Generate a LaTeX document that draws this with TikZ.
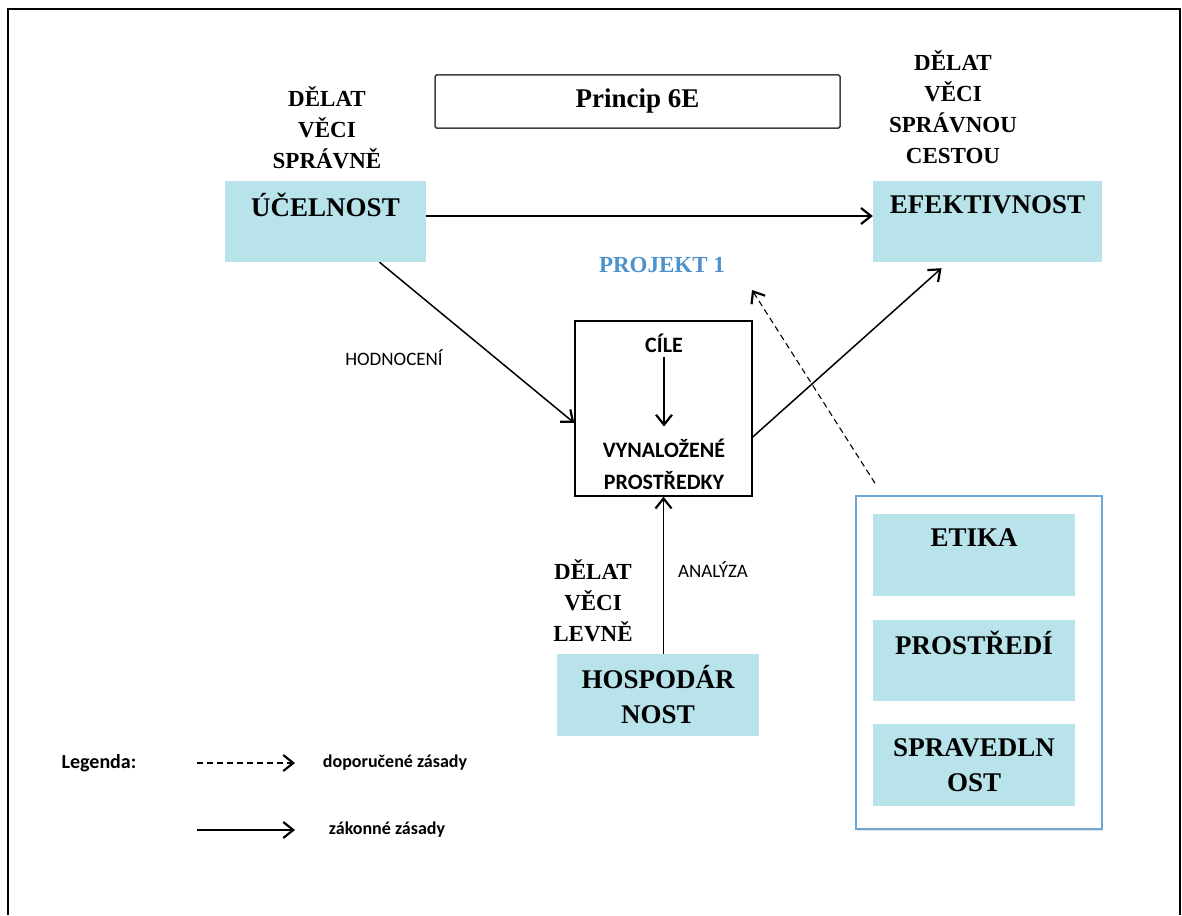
\documentclass[tikz,border=0pt]{standalone}
\usepackage{fontspec}
\setmainfont{Liberation Serif}
\newfontfamily\calibri{Carlito}
\usepackage{xcolor}
\usetikzlibrary{arrows.meta,shadows}
\definecolor{boxblue}{RGB}{184,227,234}
\definecolor{projblue}{RGB}{76,146,204}
\definecolor{groupblue}{RGB}{110,166,214}
\newcommand\boxfont{\fontsize{27}{35}\selectfont\bfseries}
\newcommand\headfont{\fontsize{23}{31}\selectfont\bfseries}
\newcommand\midfont{\calibri\fontsize{22}{32}\selectfont\bfseries}
\newcommand\notefont{\calibri\fontsize{19}{20}\selectfont}
\tikzset{
  bluebox/.style={fill=boxblue, inner sep=0pt},
  arr/.style={line width=1.5pt, -{Straight Barb[length=10pt,width=16pt,line width=2.2pt]}},
  dasharr/.style={arr, dash pattern=on 6pt off 4pt}
}

\begin{document}
\begin{tikzpicture}[x=1pt,y=-1pt]
      \useasboundingbox (0,0) rectangle (1182,915);
      \draw[line width=2pt] (8,915) -- (8,9) -- (1180,9) -- (1180,915);

      % title
      \node[draw=black!75, line width=1.5pt, rounded corners=1.5pt, minimum width=405pt, minimum height=53pt, font=\boxfont] (title) at (637.5,101.5) {Princip 6E};

      % main boxes
      \node[bluebox, minimum width=201pt, minimum height=81pt] (ucel) at (325.5,221.5) {};
      \node[font=\boxfont] (uceltext) at ([yshift=-24pt]ucel.north) {ÚČELNOST};
      \node[bluebox, minimum width=229pt, minimum height=81pt] (efek) at (987.5,221.5) {};
      \node[font=\boxfont] (efektext) at ([yshift=-24pt]efek.north) {EFEKTIVNOST};
      \node[bluebox, minimum width=202pt, minimum height=82pt, align=center, font=\boxfont] (hosp) at (658,695) {HOSPODÁR\\NOST};

      \node[font=\headfont, align=center] (sprav) at (327,128) {DĚLAT\\VĚCI\\SPRÁVNĚ};
      \node[font=\headfont, align=center] (cesta) at (953,107) {DĚLAT\\VĚCI\\SPRÁVNOU\\CESTOU};
      \node[font=\headfont, align=center] (levne) at (593,601) {DĚLAT\\VĚCI\\LEVNĚ};

      \node[font=\headfont, text=projblue] (proj) at (662,265) {PROJEKT 1};
      \coordinate (projtip) at (752,290);

      % middle box
      \node[draw, line width=1.4pt, minimum width=177pt, minimum height=175pt, inner sep=0pt] (mid) at (663.5,408.5) {};
      \node[font=\midfont, inner sep=4pt] (cile) at (664,343) {CÍLE};
      \node[font=\midfont, align=center, inner sep=2pt] (prostr) at (664,464) {VYNALOŽENÉ\\PROSTŘEDKY};
      \draw[arr, shorten >=10pt] (cile) -- (prostr);

      % right group
      \node[draw=groupblue, line width=1.5pt, fill=white, drop shadow={shadow xshift=1pt, shadow yshift=-2pt, opacity=0.25}, minimum width=246pt, minimum height=333pt] (group) at (979,662.5) {};
      \node[bluebox, minimum width=202pt, minimum height=82pt] (etika) at (974,555) {};
      \node[font=\boxfont] (etikatext) at ([yshift=-24pt]etika.north) {ETIKA};
      \node[bluebox, minimum width=202pt, minimum height=81pt] (prostredi) at (974,660.5) {};
      \node[font=\boxfont] (prostreditext) at ([yshift=-23pt]prostredi.north) {PROSTŘEDÍ};
      \node[bluebox, minimum width=202pt, minimum height=82pt, align=center, font=\boxfont] (spravedl) at (974,765) {SPRAVEDLN\\OST};

      % connectors
      \draw[arr] ([yshift=5.5pt]ucel.east) -- ([yshift=5.5pt]efek.west);
      \draw[arr] ([xshift=54pt]ucel.south) -- ([yshift=-14.5pt]mid.west);
      \draw[arr] ([yshift=-28.5pt]mid.east) -- ([xshift=-46pt,yshift=-6pt]efek.south);
      \draw[arr] (mid.south |- hosp.north) -- (mid.south);
      \draw[dasharr, line width=1.1pt] ([xshift=-104pt,yshift=12pt]group.north) -- (projtip);

      \node[font=\notefont] (hodn) at (394,358) {HODNOCENÍ};
      \node[font=\notefont] (anal) at (713,570) {ANALÝZA};

      % legend
      \node[font=\calibri\fontsize{20}{22}\selectfont\bfseries] (legend) at (99,763) {Legenda:};
      \coordinate (d1) at (197,763);
      \coordinate (d2) at (295,763);
      \coordinate (s1) at (197,830);
      \coordinate (s2) at (295,830);
      \draw[dasharr] (d1) -- (d2);
      \draw[arr] (s1) -- (s2);
      \node[font=\calibri\fontsize{18}{20}\selectfont\bfseries] (dop) at (395,763) {doporučené zásady};
      \node[font=\calibri\fontsize{18}{20}\selectfont\bfseries] (zak) at (387,830) {zákonné zásady};
    \end{tikzpicture}
\end{document}
